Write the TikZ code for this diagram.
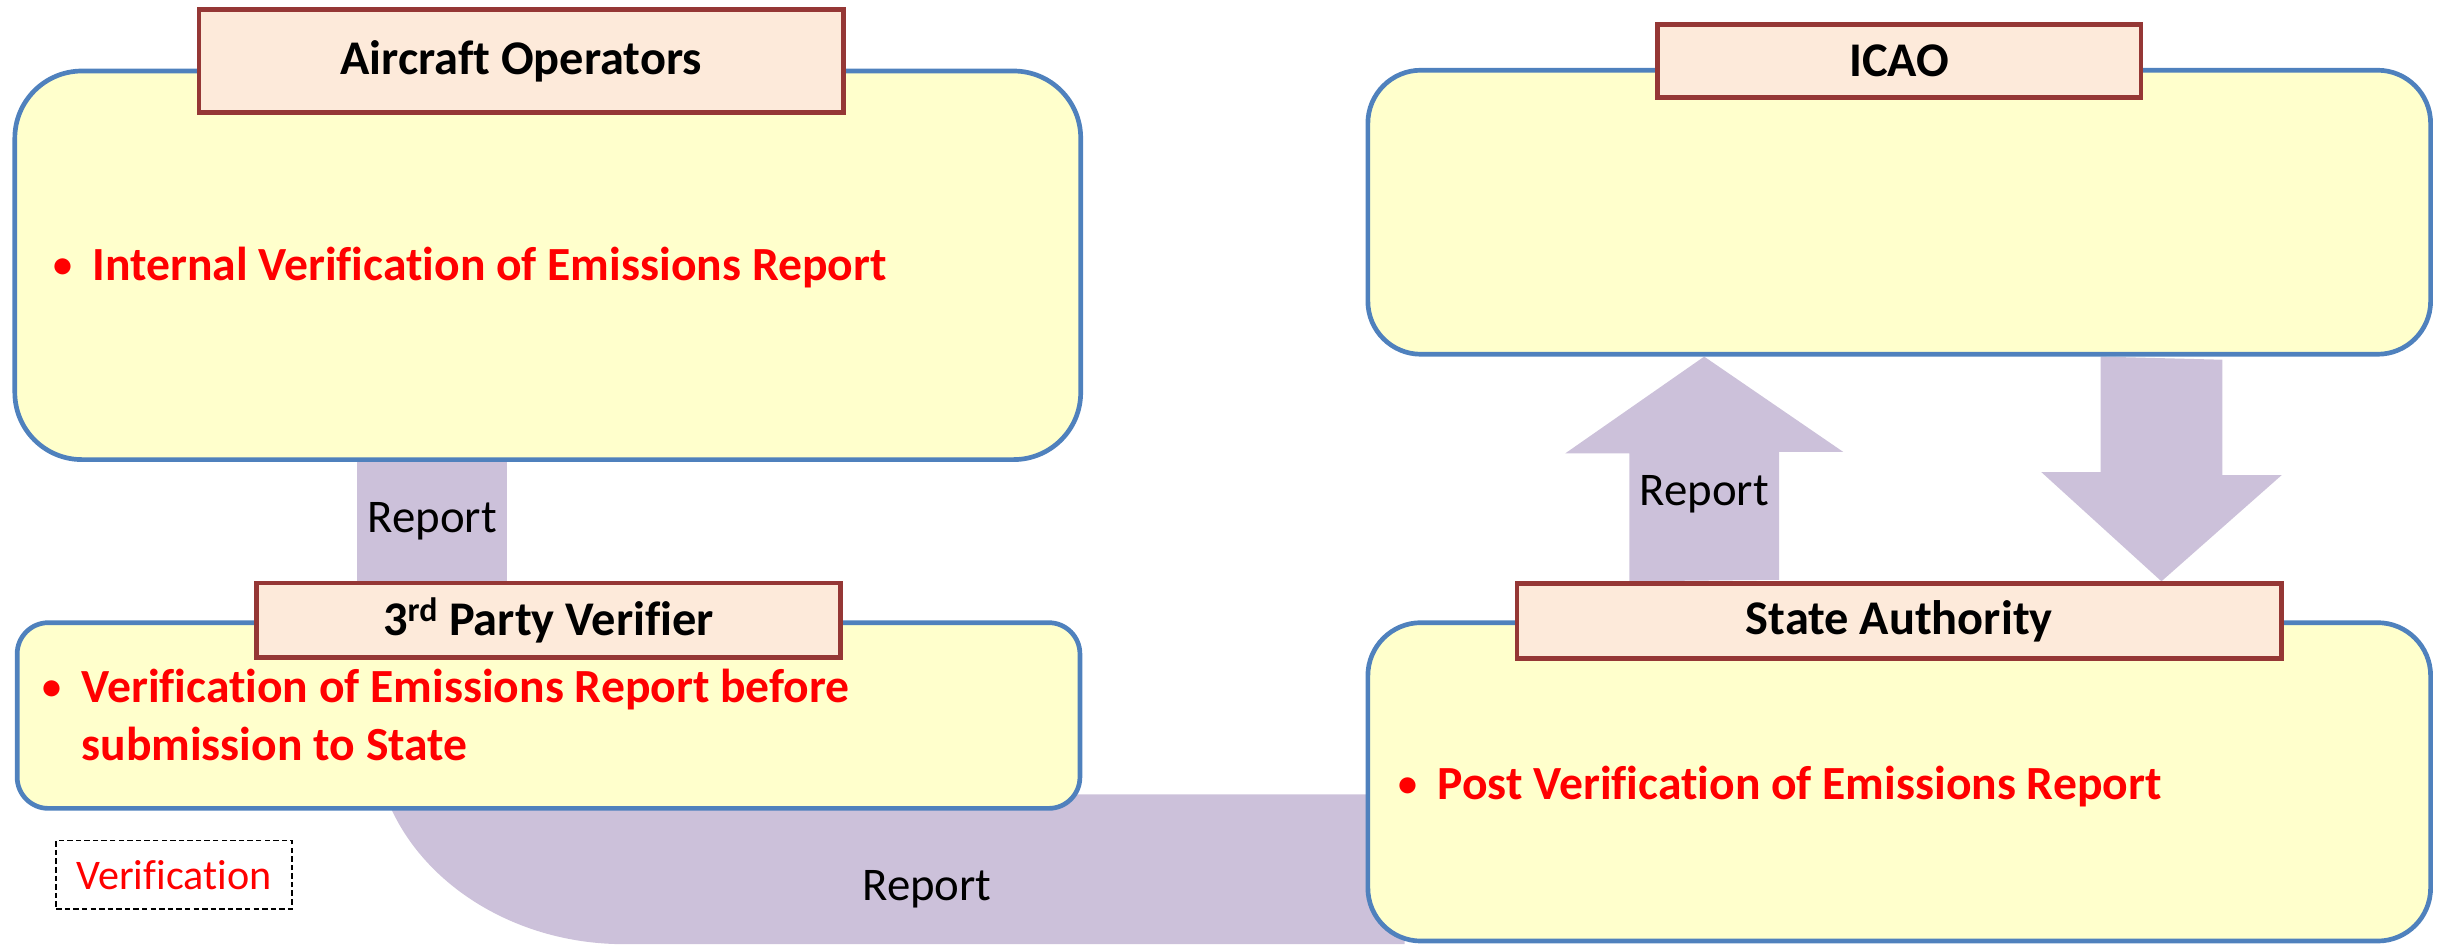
\documentclass[tikz,border=0pt]{standalone}
\usepackage{graphicx}
\usepackage{fontspec}
\setmainfont[Ligatures=NoCommon]{Carlito}
\usepackage{tikz}
\usetikzlibrary{positioning,calc,backgrounds}

\definecolor{boxfill}{RGB}{255,255,204}
\definecolor{boxline}{RGB}{79,129,189}
\definecolor{titlefill}{RGB}{253,234,218}
\definecolor{titleline}{RGB}{149,55,53}
\definecolor{bandfill}{RGB}{204,193,218}

\newcommand\itembul{\makebox[0pt]{\raisebox{2pt}{\scalebox{0.8}{\textbullet}}}\hspace*{19pt}}

\begin{document}
\begin{tikzpicture}[x=1pt, y=-1pt,
  group box/.style={draw=boxline, fill=boxfill, line width=3pt, rounded corners=#1, inner sep=0pt},
  title box/.style={draw=titleline, fill=titlefill, line width=3pt, inner sep=0pt, font=\bfseries\fontsize{31}{37}\selectfont},
  item/.style={anchor=base west, align=left, inner sep=0pt, text=red, font=\bfseries\fontsize{30.5}{37}\selectfont},
  band/.style={fill=bandfill},
  band label/.style={inner sep=0pt, font=\fontsize{30}{36}\selectfont}]

\useasboundingbox (0,0) rectangle (1568,605);

% left column
\node [group box=43pt, minimum width=683pt, minimum height=249pt] (ao-box) at (351,170) {};
\node [title box, minimum width=413pt, minimum height=66pt] (ao-title) at (334,39) {Aircraft Operators};
\node [item] (ao-item) at (40,179.5) {\itembul Internal Verification of Emissions Report};

\node [group box=20pt, minimum width=681pt, minimum height=119pt] (vr-box) at (351.5,458.5) {};
\node [title box, minimum width=374pt, minimum height=48pt] (vr-title) at (351.5,397.5) {3\textsuperscript{rd} Party Verifier};
\node [item] (vr-item) at (33,487) {\itembul Verification of Emissions Report before\\
  \hspace*{19pt}submission to State};

\node [draw, dash pattern=on 3.5pt off 2pt, line width=1.2pt, minimum width=151pt, minimum height=44pt,
  inner sep=0pt, text=red, font=\fontsize{27}{32}\selectfont] (vr-note) at (111.5,560.6) {Verification};

% right column
\node [group box=34pt, minimum width=681pt, minimum height=182pt] (icao-box) at (1217,136) {};
\node [title box, minimum width=310pt, minimum height=47pt] (icao-title) at (1217,39) {ICAO};

\node [group box=34pt, minimum width=681pt, minimum height=204pt] (sa-box) at (1217,501) {};
\node [title box, minimum width=490pt, minimum height=48pt] (sa-title) at (1217,398) {State Authority};
\node [item] (sa-item) at (902,512.5) {\itembul Post Verification of Emissions Report};

\begin{scope}[on background layer]
  % report down to the verifier
  \draw [draw=bandfill, line width=96pt] ([xshift=-74pt]ao-box.south) -- ([xshift=-74.5pt]vr-title.north)
    node [band label, midway] (rep-down) {Report};

  % report up to ICAO
  \fill [band] ([xshift=-173pt]sa-title.north) -- ++(0,-82) -- ++(-41,0) -- ([xshift=-125pt]icao-box.south)
    -- ++(89,61) -- ++(-41,0) -- ++(0,82) -- cycle;
  \node [band label] (rep-up) at (1092,317) {Report};

  % back down from ICAO
  \fill [band] ([xshift=129pt]icao-box.south) -- ++(0,74) -- ++(-38,0) -- ([xshift=168pt]sa-title.north)
    -- ++(77,-68) -- ++(-38,0) -- ++(0,-74) -- cycle;

  % report round to the State
  \fill [band] (240,470) .. controls (240,544) and (312,605) .. (400,605) -- (900,605) -- (900,509)
    -- (600,509) -- (600,470) -- cycle;
  \node [band label] (rep-round) at (594,570) {Report};
\end{scope}

\end{tikzpicture}
\end{document}
